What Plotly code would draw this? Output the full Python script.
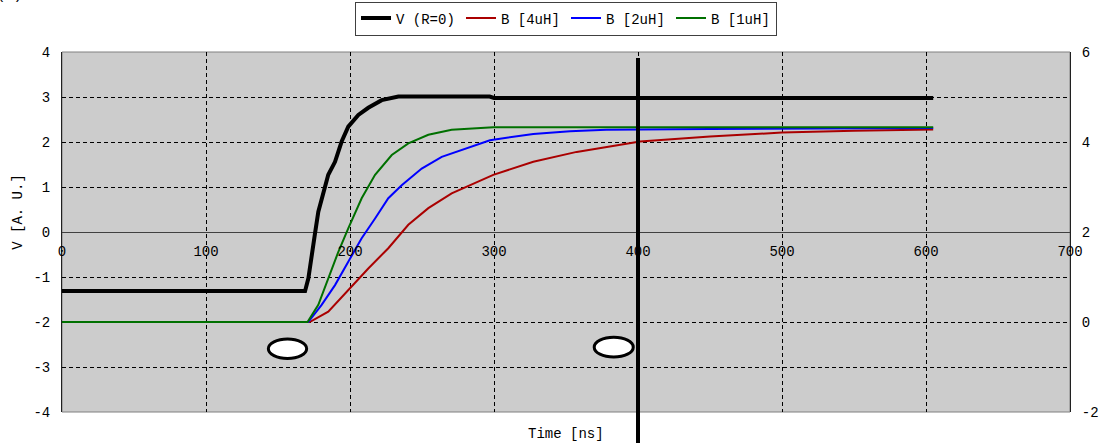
import plotly.graph_objects as go

# ---- data ----
t_V = [0, 168.8, 171.1, 172.9, 175.7, 178, 181.5, 184.9, 189.6, 194.2, 198.8, 205.8, 212.7, 222, 233.6, 297, 300, 605]
V = [-1.31, -1.31, -1.03, -0.59, -0.03, 0.45, 0.9, 1.27, 1.56, 2.01, 2.34, 2.6, 2.76, 2.93, 3.01, 3.01, 2.98, 2.98]

t_B4 = [0, 172, 184.9, 198.8, 212.7, 226.6, 240.5, 254.4, 270.6, 299.5, 327.3, 357.4, 401.4, 450, 500, 550, 605]
B4 = [0, 0, 0.23, 0.71, 1.19, 1.64, 2.16, 2.53, 2.86, 3.27, 3.56, 3.78, 4.01, 4.12, 4.21, 4.25, 4.28]

t_B2 = [0, 171, 180.3, 189.6, 198.8, 208.1, 217.4, 226.6, 235.9, 249.8, 263.7, 297.2, 327.3, 352.8, 378, 450, 605]
B2 = [0, 0, 0.38, 0.82, 1.34, 1.86, 2.30, 2.75, 3.04, 3.41, 3.67, 4.04, 4.18, 4.24, 4.27, 4.29, 4.31]

t_B1 = [0, 170.5, 178, 184.9, 191.9, 198.8, 208.1, 217.4, 229, 240.5, 254.4, 270.6, 299.5, 605]
B1 = [0, 0, 0.38, 0.97, 1.56, 2.08, 2.75, 3.27, 3.71, 3.97, 4.16, 4.27, 4.33, 4.33]

x_ticks = [0, 100, 200, 300, 400, 500, 600, 700]
y_ticks = [-4, -3, -2, -1, 0, 1, 2, 3, 4]
y_ticktext = ["-4", "-3", "-2", "-1", "0", "1", "2", "3", "4"]
y2_ticks = [-2, 0, 2, 4, 6]
y2_ticktext = ["-2", "0", "2", "4", "6"]

x_range = [0, 700]
y_range = [-4, 4]
y2_range = [-2, 6]

marker_x = 400
ellipses = [  # (x0, x1, y0, y1) in data units
    (143.3, 169.9, -2.81, -2.38),
    (369.6, 396.7, -2.78, -2.34),
]

FONT = "Liberation Mono"
FS = 14

fig = go.Figure()
fig.add_trace(go.Scatter(x=t_V, y=V, mode="lines", name="V (R=0)",
                         line=dict(color="black", width=4)))
fig.add_trace(go.Scatter(x=t_B4, y=B4, mode="lines", name="B [4uH]", yaxis="y2",
                         line=dict(color="#aa0000", width=2)))
fig.add_trace(go.Scatter(x=t_B2, y=B2, mode="lines", name="B [2uH]", yaxis="y2",
                         line=dict(color="#0000ff", width=2)))
fig.add_trace(go.Scatter(x=t_B1, y=B1, mode="lines", name="B [1uH]", yaxis="y2",
                         line=dict(color="#007000", width=2)))

for (x0, x1, y0, y1) in ellipses:
    fig.add_shape(type="circle", xref="x", yref="y", x0=x0, x1=x1, y0=y0, y1=y1,
                  line=dict(color="black", width=3), fillcolor="white", layer="above")

# vertical marker line
xp = (marker_x - x_range[0]) / (x_range[1] - x_range[0])
fig.add_shape(type="line", xref="paper", yref="paper", x0=xp, x1=xp, y0=-0.09, y1=0.983,
              line=dict(color="black", width=4), layer="above")

# plot border (top/bottom)
fig.add_shape(type="rect", xref="paper", yref="paper", x0=0, x1=1, y0=0, y1=1,
              line=dict(color="#808080", width=1), layer="below")

fig.update_layout(
    width=1101, height=443,
    margin=dict(l=62, r=31, t=52, b=31, autoexpand=False),
    paper_bgcolor="white",
    plot_bgcolor="#cccccc",
    font=dict(family=FONT, size=FS, color="black"),
    showlegend=True,
    legend=dict(orientation="h", x=0.5, xanchor="center", y=1.093, yanchor="middle",
                bgcolor="white", bordercolor="#404040", borderwidth=1,
                font=dict(family=FONT, size=FS), itemwidth=30, tracegroupgap=0,
                entrywidth=60, entrywidthmode="pixels"),
    xaxis=dict(range=x_range, tickvals=x_ticks, anchor="free", position=0.5,
               showline=False, zeroline=False,
               showgrid=True, gridcolor="black", gridwidth=1, griddash="4px,3px",
               ticks="outside", ticklen=6, tickcolor="rgba(0,0,0,0)",
               tickfont=dict(family=FONT, size=FS)),
    yaxis=dict(range=y_range, tickvals=y_ticks, ticktext=y_ticktext,
               showline=True, linecolor="#202020", linewidth=1,
               zeroline=True, zerolinecolor="#404040", zerolinewidth=1,
               showgrid=True, gridcolor="black", gridwidth=1, griddash="4px,3px",
               ticks="outside", ticklen=8, tickcolor="rgba(0,0,0,0)",
               tickfont=dict(family=FONT, size=FS)),
    yaxis2=dict(range=y2_range, tickvals=y2_ticks, ticktext=y2_ticktext,
                overlaying="y", side="right", showline=True, linecolor="#202020", linewidth=1,
                showgrid=False, zeroline=False,
                ticks="outside", ticklen=8, tickcolor="rgba(0,0,0,0)",
                tickfont=dict(family=FONT, size=FS)),
    annotations=[
        dict(text="Time [ns]", xref="paper", yref="paper", x=0.5, y=-0.061,
             xanchor="center", yanchor="middle", showarrow=False,
             font=dict(family=FONT, size=FS)),
        dict(text="V [A. U.]", xref="paper", yref="paper", x=-0.0437, y=0.556,
             xanchor="center", yanchor="middle", textangle=-90, showarrow=False,
             font=dict(family=FONT, size=FS)),
        dict(text="(a)", xref="paper", yref="paper", x=-0.052, y=1.158,
             xanchor="center", yanchor="middle", showarrow=False,
             font=dict(family=FONT, size=FS)),
    ],
)

fig.write_html("out.html", config={"displayModeBar": False},
               post_script="document.body.style.margin='0';")
